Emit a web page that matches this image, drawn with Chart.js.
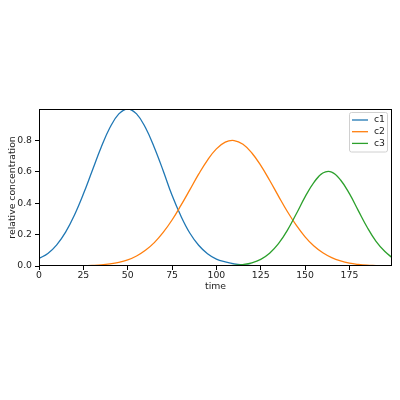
<!DOCTYPE html>
<html>
<head>
<meta charset="utf-8">
<script src="https://cdn.jsdelivr.net/npm/chart.js@4/dist/chart.umd.min.js"></script>
<style>
  html, body { margin: 0; padding: 0; background: #fff; }
  #wrap { width: 400px; height: 400px; }
</style>
</head>
<body>
<div id="wrap"><canvas id="chart" width="400" height="400"></canvas></div>
<script>
// values
const times = [0, 5, 10, 15, 20, 25, 30, 35, 40, 45, 50, 55, 60, 65, 70, 75, 80, 85, 90, 95,
               100, 105, 110, 115, 120, 125, 130, 135, 140, 145, 150, 155, 160, 165, 170, 175, 180, 185, 190, 195, 199];
const c1 = [0.048, 0.080, 0.135, 0.216, 0.325, 0.458, 0.607, 0.755, 0.882, 0.969, 1.000, 0.969, 0.882, 0.755, 0.607, 0.450, 0.318, 0.210, 0.132, 0.078,
            0.044, 0.026, 0.014, 0.007, 0.003, 0.001, 0, 0, 0, 0, 0, 0, 0, 0, 0, 0, 0, 0, 0, 0, 0];
const c2 = [0, 0, 0, 0, 0.001, 0.002, 0.004, 0.007, 0.013, 0.023, 0.039, 0.064, 0.100, 0.149, 0.214, 0.293, 0.386, 0.485, 0.585, 0.675,
            0.746, 0.789, 0.799, 0.775, 0.720, 0.641, 0.546, 0.445, 0.347, 0.260, 0.186, 0.127, 0.084, 0.053, 0.032, 0.018, 0.010, 0.005, 0.003, 0.001, 0.001];
const c3 = [0, 0, 0, 0, 0, 0, 0, 0, 0, 0, 0, 0, 0, 0, 0, 0, 0, 0, 0, 0,
            0, 0.001, 0.004, 0.009, 0.020, 0.042, 0.081, 0.142, 0.227, 0.331, 0.440, 0.533, 0.592, 0.598, 0.548, 0.461, 0.353, 0.247, 0.157, 0.092, 0.054];
const seriesNames = ['c1', 'c2', 'c3'];
const seriesColors = ['#1f77b4', '#ff7f0e', '#2ca02c'];
const xTicks = [0, 25, 50, 75, 100, 125, 150, 175];
const yTicks = [0, 0.2, 0.4, 0.6, 0.8];

const FONT = 'DejaVu Sans';
const FSIZE = 9.3;

// ----------------------
// Datasets
// ----------------------
const allSeries = [c1, c2, c3];
const datasets = allSeries.map((vals, i) => ({
    label: seriesNames[i],
    data: times.map((t, j) => ({ x: t, y: vals[j] })),
    borderColor: seriesColors[i],
    backgroundColor: seriesColors[i],
    borderWidth: 1.3,
    pointRadius: 0,
    fill: false,
    tension: 0.4,
    order: allSeries.length - i   // later series on top, like matplotlib
}));

// frame around the plot + legend box inside top right
const framePlugin = {
    id: 'frame',
    afterDraw(chart) {
        const { ctx, chartArea: a } = chart;
        ctx.save();
        ctx.strokeStyle = '#000';
        ctx.lineWidth = 1;
        const l = Math.round(a.left) + 0.5, t = Math.round(a.top) + 0.5;
        const r = Math.round(a.right) - 0.5, b = Math.round(a.bottom) - 0.5;
        ctx.strokeRect(l, t, r - l, b - t);

        // legend
        const bx = 349.5, by = 112.5, bw = 38, bh = 39.5;
        ctx.fillStyle = 'rgba(255,255,255,0.8)';
        ctx.strokeStyle = '#d0d0d0';
        ctx.beginPath();
        ctx.roundRect(bx, by, bw, bh, 2);
        ctx.fill();
        ctx.stroke();

        ctx.font = FSIZE + 'px "' + FONT + '"';
        ctx.textBaseline = 'middle';
        ctx.textAlign = 'left';
        chart.data.datasets.forEach((ds, i) => {
            const y = 120 + i * 11.7;
            ctx.strokeStyle = ds.borderColor;
            ctx.lineWidth = 1.3;
            ctx.beginPath();
            ctx.moveTo(352, y);
            ctx.lineTo(368, y);
            ctx.stroke();
            ctx.fillStyle = '#222';
            ctx.fillText(ds.label, 374, y);
        });
        ctx.restore();
    }
};

const ctx = document.getElementById('chart').getContext('2d');
new Chart(ctx, {
    type: 'line',
    data: { datasets },
    options: {
        responsive: false,
        animation: false,
        devicePixelRatio: 1,
        layout: { padding: { top: 109, right: 8, bottom: 104, left: 0 } },
        plugins: {
            legend: { display: false },
            tooltip: { enabled: false }
        },
        scales: {
            x: {
                type: 'linear',
                min: 0,
                max: 199,
                afterBuildTicks: s => { s.ticks = xTicks.map(v => ({ value: v })); },
                afterFit: s => { s.height = 30; },
                grid: { drawOnChartArea: false, drawTicks: true, tickLength: 4, color: '#000' },
                border: { display: false },
                ticks: { padding: 0, color: '#222', font: { family: FONT, size: FSIZE }, maxRotation: 0 },
                title: { display: true, text: 'time', color: '#222', font: { family: FONT, size: FSIZE }, padding: { top: 4, bottom: 4 } }
            },
            y: {
                min: 0,
                max: 1.0,
                afterBuildTicks: s => { s.ticks = yTicks.map(v => ({ value: v })); },
                afterFit: s => { s.width = 39; },
                grid: { drawOnChartArea: false, drawTicks: true, tickLength: 4, color: '#000' },
                border: { display: false },
                ticks: { padding: 3, color: '#222', font: { family: FONT, size: FSIZE }, callback: v => v.toFixed(1) },
                title: { display: true, text: 'relative concentration', color: '#222', font: { family: FONT, size: FSIZE }, padding: { top: 7, bottom: 4 } }
            }
        }
    },
    plugins: [framePlugin]
});
</script>
</body>
</html>
